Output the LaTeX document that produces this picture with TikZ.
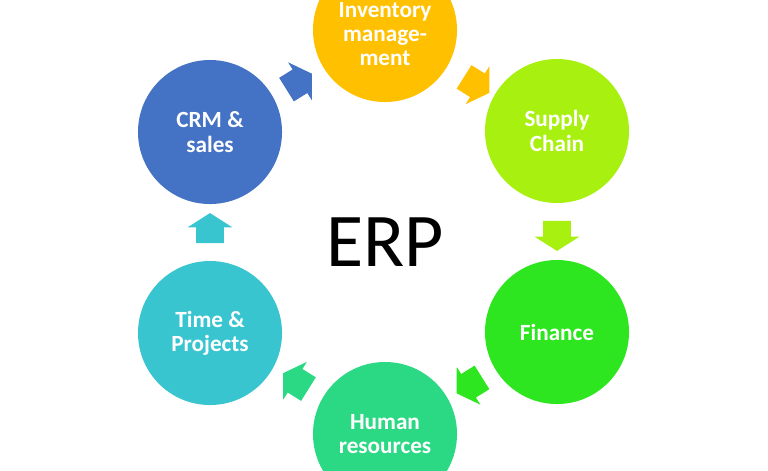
\documentclass[tikz,border=0pt]{standalone}
\usepackage{fontspec}
\setmainfont{Carlito}
\usepackage{xcolor}
\usetikzlibrary{shapes.arrows, positioning, calc}
\definecolor{InvYellow}{RGB}{255,192,0}
\definecolor{SupplyLime}{RGB}{168,240,16}
\definecolor{FinGreen}{RGB}{46,230,32}
\definecolor{HrGreen}{RGB}{43,217,132}
\definecolor{TimeCyan}{RGB}{57,197,207}
\definecolor{CrmBlue}{RGB}{68,114,196}
\tikzset{
    modText/.style={
        text=white, align=center, inner sep=0pt,
        font=\bfseries\fontsize{16.5}{17.2}\selectfont
    },
    modNode/.style={
        modText, circle, minimum size=3.6cm
    },
    blockArrow/.style={
        single arrow, inner xsep=0pt, inner ysep=0.34cm,
        single arrow head extend=0.21cm, single arrow tip angle=115,
        minimum height=0.75cm
    }
}

\begin{document}
\begin{tikzpicture}[x=0.025cm, y=-0.025cm]
    \clip (0,0) rectangle (768,470);

    % --- CÁC MODULE ---
    \node[modNode, fill=InvYellow] (inv) at (385,30) {};
    \node[modText] (invTxt) at ($(inv)+(0,4)$) {Inventory\\manage-\\ment};
    \node[modNode, fill=SupplyLime] (sup) at (557,131) {Supply\\Chain};
    \node[modNode, fill=FinGreen] (fin) at (557,332) {Finance};
    \node[modNode, fill=HrGreen] (hr) at (385,434) {Human\\resources};
    \node[modNode, fill=TimeCyan] (time) at (210,333) {Time \&\\Projects};
    \node[modNode, fill=CrmBlue] (crm) at (210,132) {CRM \&\\sales};

    % --- TÂM ---
    \node[font=\fontsize{54}{60}\selectfont] (erp) at (385,242) {ERP};

    % --- MŨI TÊN GIỮA CÁC MODULE ---
    \node[blockArrow, fill=CrmBlue, rotate=32] (a1) at ($(crm)!0.5!(inv)+(-2,3)$) {};
    \node[blockArrow, fill=InvYellow, rotate=-32] (a2) at ($(inv)!0.5!(sup)+(2,2)$) {};
    \node[blockArrow, fill=SupplyLime, rotate=-90] (a3) at ($(sup)!0.5!(fin)$) {};
    \node[blockArrow, fill=FinGreen, rotate=-148] (a4) at ($(fin)!0.5!(hr)+(2,0)$) {};
    \node[blockArrow, fill=HrGreen, rotate=148] (a5) at ($(hr)!0.5!(time)+(2,0)$) {};
    \node[blockArrow, fill=TimeCyan, rotate=90] (a6) at ($(time)!0.5!(crm)$) {};
\end{tikzpicture}
\end{document}
